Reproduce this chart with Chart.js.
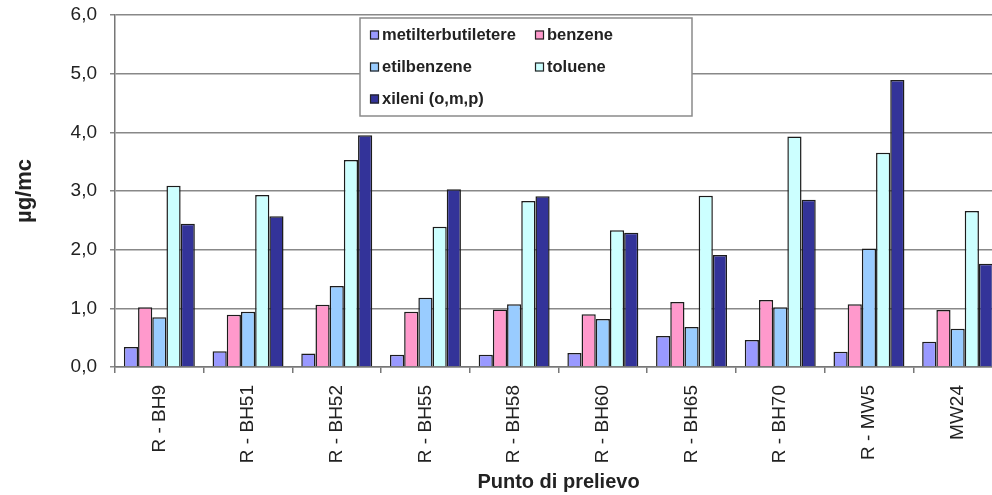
<!DOCTYPE html>
<html>
<head>
<meta charset="utf-8">
<script src="https://cdn.jsdelivr.net/npm/chart.js@4"></script>
<style>
  html, body { margin: 0; padding: 0; background: #fff; overflow: hidden; }
  #wrap { position: absolute; left: 0; top: 0; width: 1002px; height: 495px; }
</style>
</head>
<body>
<div id="wrap"><canvas id="chart"></canvas></div>
<script>
const categories = ["R - BH9", "R - BH51", "R - BH52", "R - BH55", "R - BH58", "R - BH60", "R - BH65", "R - BH70", "R - MW5", "MW24"];
const metilterbutiletere = [0.34, 0.27, 0.23, 0.21, 0.21, 0.24, 0.53, 0.46, 0.26, 0.43];
const benzene = [1.02, 0.89, 1.06, 0.94, 0.98, 0.90, 1.11, 1.14, 1.07, 0.97];
const etilbenzene = [0.85, 0.94, 1.38, 1.18, 1.07, 0.82, 0.68, 1.02, 2.02, 0.65];
const toluene = [3.09, 2.93, 3.53, 2.39, 2.83, 2.33, 2.92, 3.93, 3.65, 2.66];
const xileni = [2.44, 2.57, 3.95, 3.03, 2.91, 2.29, 1.91, 2.85, 4.89, 1.76];
const yTickLabels = ["0,0", "1,0", "2,0", "3,0", "4,0", "5,0", "6,0"];

const FONT = "'Liberation Sans', Arial, sans-serif";

// legend box drawn inside the plot, two columns like the original
const boxLegend = {
  id: "boxLegend",
  afterDatasetsDraw(chart) {
    const ctx = chart.ctx;
    const x = 360, y = 18, w = 332, h = 98;
    ctx.save();
    ctx.fillStyle = "#fff";
    ctx.fillRect(x, y, w, h);
    ctx.strokeStyle = "#8a8a8a";
    ctx.lineWidth = 1.5;
    ctx.strokeRect(x, y, w, h);
    ctx.font = "bold 16.5px " + FONT;
    ctx.textBaseline = "middle";
    chart.data.datasets.forEach((ds, i) => {
      const col = i % 2, row = Math.floor(i / 2);
      const bx = x + 10 + col * 165, by = y + 17 + row * 32;
      ctx.fillStyle = ds.backgroundColor;
      ctx.fillRect(bx, by - 4.5, 9, 9);
      ctx.strokeStyle = "#222";
      ctx.lineWidth = 1.2;
      ctx.strokeRect(bx + 0.5, by - 4, 8, 8);
      ctx.fillStyle = "#222";
      ctx.fillText(ds.label, bx + 12, by);
    });
    ctx.restore();
  }
};

const mk = (label, data, color) => ({
  label: label,
  data: data,
  backgroundColor: color,
  borderColor: "#1c1c1c",
  borderWidth: 1.5,
  categoryPercentage: 0.8,
  barPercentage: 1.0,
});

new Chart(document.getElementById("chart"), {
  type: "bar",
  data: {
    labels: categories,
    datasets: [
      mk("metilterbutiletere", metilterbutiletere, "#9999ff"),
      mk("benzene", benzene, "#ff99cc"),
      mk("etilbenzene", etilbenzene, "#99ccff"),
      mk("toluene", toluene, "#ccffff"),
      mk("xileni (o,m,p)", xileni, "#333399"),
    ],
  },
  options: {
    responsive: true,
    maintainAspectRatio: false,
    animation: false,
    layout: { padding: { left: 8, top: 15, right: 0, bottom: 0 } },
    plugins: {
      legend: { display: false },
      tooltip: { enabled: false },
    },
    scales: {
      x: {
        afterFit: (s) => { s.height = 128; },
        grid: { drawOnChartArea: false, color: "#777", lineWidth: 1.5, tickLength: 6 },
        border: { color: "#777", width: 1.5 },
        ticks: {
          minRotation: 90,
          maxRotation: 90,
          autoSkip: false,
          padding: 12,
          color: "#222",
          font: { family: FONT, size: 19 },
        },
        title: {
          display: true,
          text: "Punto di prelievo",
          color: "#222",
          font: { family: FONT, size: 20, weight: "bold" },
          padding: { top: 0, bottom: 1 },
        },
      },
      y: {
        min: 0,
        max: 6,
        afterFit: (s) => { s.width = 107; s.paddingTop = 0; s.paddingBottom = 0; },
        grid: { color: "#888", lineWidth: 1.5, tickLength: 5 },
        border: { color: "#777", width: 1.5 },
        ticks: {
          stepSize: 1,
          padding: 13,
          color: "#222",
          font: { family: FONT, size: 19 },
          callback: (v, i) => yTickLabels[i],
        },
        title: {
          display: true,
          text: "µg/mc",
          color: "#222",
          font: { family: FONT, size: 22, weight: "bold" },
          padding: { top: 4, bottom: 0 },
        },
      },
    },
  },
  plugins: [boxLegend],
});
</script>
</body>
</html>
